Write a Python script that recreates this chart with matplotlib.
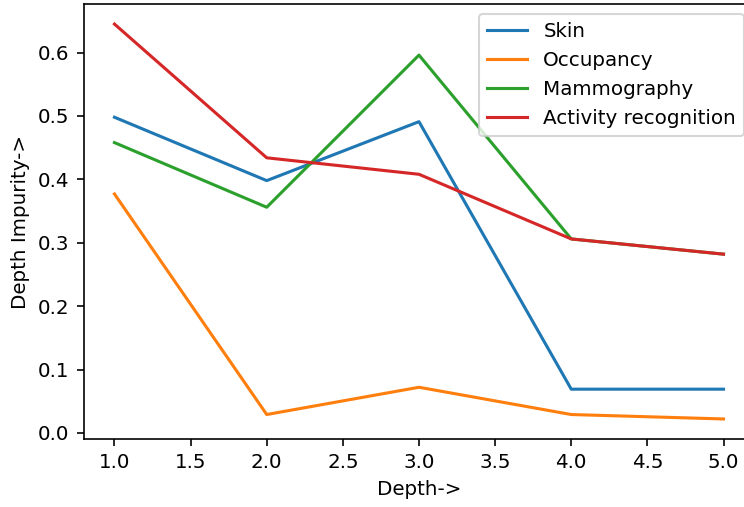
"""
Depth impurity vs tree depth for four datasets
"""

import matplotlib
matplotlib.use('Agg')
import matplotlib.pyplot as plt

# Data
depths = [1.0, 2.0, 3.0, 4.0, 5.0]
skin = [0.498, 0.398, 0.491, 0.069, 0.069]
occupancy = [0.377, 0.029, 0.072, 0.029, 0.022]
mammography = [0.458, 0.356, 0.596, 0.306, 0.282]
activity = [0.645, 0.434, 0.408, 0.306, 0.282]


def main():
    """Draw the chart and save it"""
    plt.rcParams['font.size'] = 9.7
    dpi = 148
    fig = plt.figure(figsize=(744 / dpi, 507 / dpi), dpi=dpi)
    # Right edge runs past the figure, as in the reference (cropped image)
    ax = fig.add_axes([0.1129, 0.1347, 1.0134 - 0.1129, 0.9915 - 0.1347])

    ax.plot(depths, skin, label='Skin')
    ax.plot(depths, occupancy, label='Occupancy')
    ax.plot(depths, mammography, label='Mammography')
    ax.plot(depths, activity, label='Activity recognition')

    ax.set_xlabel('Depth->')
    ax.set_ylabel('Depth Impurity->')
    ax.legend(loc='upper right')

    fig.savefig('out.png', dpi=dpi)


if __name__ == '__main__':
    main()
